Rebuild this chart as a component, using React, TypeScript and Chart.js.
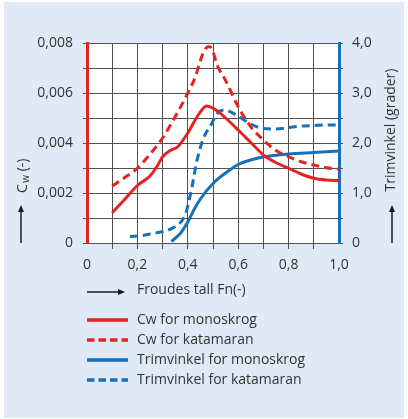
import React, { useEffect, useRef } from "react";
import { Chart, registerables } from "chart.js";

Chart.register(...registerables);

// ---- data ----
const cwMonoFn = [0.10, 0.15, 0.20, 0.25, 0.28, 0.30, 0.33, 0.36, 0.40, 0.44, 0.475, 0.51, 0.55, 0.60, 0.65, 0.70, 0.75, 0.80, 0.85, 0.90, 0.95, 1.00];
const cwMono = [0.00121, 0.00175, 0.00230, 0.00268, 0.00310, 0.00345, 0.00370, 0.00385, 0.00440, 0.00510, 0.00548, 0.00533, 0.00500, 0.00452, 0.00402, 0.00352, 0.00321, 0.00299, 0.00276, 0.00259, 0.00252, 0.00250];

const cwCatFn = [0.10, 0.15, 0.20, 0.25, 0.30, 0.35, 0.40, 0.43, 0.45, 0.465, 0.485, 0.50, 0.515, 0.55, 0.60, 0.65, 0.70, 0.75, 0.80, 0.85, 0.90, 0.95, 1.00];
const cwCat = [0.00228, 0.00262, 0.00299, 0.00355, 0.00420, 0.00505, 0.00600, 0.00665, 0.00730, 0.00770, 0.00786, 0.00765, 0.00715, 0.00650, 0.00545, 0.00465, 0.00412, 0.00370, 0.00345, 0.00325, 0.00312, 0.00301, 0.00295];

const trimMonoFn = [0.335, 0.37, 0.40, 0.425, 0.45, 0.50, 0.55, 0.60, 0.65, 0.70, 0.80, 0.90, 1.00];
const trimMono = [0.03, 0.19, 0.42, 0.67, 0.88, 1.19, 1.40, 1.57, 1.66, 1.72, 1.78, 1.81, 1.84];

const trimCatFn = [0.17, 0.22, 0.25, 0.30, 0.35, 0.39, 0.415, 0.435, 0.46, 0.495, 0.515, 0.545, 0.59, 0.65, 0.70, 0.75, 0.80, 0.85, 0.90, 0.95, 1.00];
const trimCat = [0.13, 0.15, 0.18, 0.23, 0.33, 0.57, 1.08, 1.62, 2.07, 2.39, 2.58, 2.66, 2.57, 2.38, 2.29, 2.28, 2.31, 2.34, 2.35, 2.36, 2.36];

const seriesLabels = ["Cw for monoskrog", "Cw for katamaran", "Trimvinkel for monoskrog", "Trimvinkel for katamaran"];
const xTitle = "Froudes tall Fn(-)";
const rightTitle = "Trimvinkel (grader)";

const RED = "#e52421";
const BLUE = "#1671b8";
const TEXT = "#333333";
const GRID = "#505050";
const FONT = "'Open Sans', sans-serif";

const pts = (xs: number[], ys: number[]) => xs.map((x, i) => ({ x, y: ys[i] }));
const comma = (v: number, d: number) => (Math.abs(v) < 1e-12 ? "0" : v.toFixed(d).replace(".", ","));

function arrow(ctx: CanvasRenderingContext2D, x1: number, y1: number, x2: number, y2: number) {
  const ang = Math.atan2(y2 - y1, x2 - x1);
  const L = 7, W = 3;
  ctx.save();
  ctx.strokeStyle = "#1a1a1a";
  ctx.fillStyle = "#1a1a1a";
  ctx.lineWidth = 1.5;
  ctx.beginPath();
  ctx.moveTo(x1, y1);
  ctx.lineTo(x2 - Math.cos(ang) * (L - 1), y2 - Math.sin(ang) * (L - 1));
  ctx.stroke();
  ctx.beginPath();
  ctx.moveTo(x2, y2);
  ctx.lineTo(x2 - Math.cos(ang) * L - Math.sin(ang) * W, y2 - Math.sin(ang) * L + Math.cos(ang) * W);
  ctx.lineTo(x2 - Math.cos(ang) * L + Math.sin(ang) * W, y2 - Math.sin(ang) * L - Math.cos(ang) * W);
  ctx.closePath();
  ctx.fill();
  ctx.restore();
}

const decorPlugin = {
  id: "decor",
  beforeDraw(chart: any) {
    const { ctx, chartArea } = chart;
    ctx.save();
    ctx.fillStyle = "#ffffff";
    ctx.fillRect(chartArea.left, chartArea.top, chartArea.right - chartArea.left, chartArea.bottom - chartArea.top);
    ctx.restore();
  },
  afterDraw(chart: any) {
    const { ctx, chartArea } = chart;
    const left = chartArea.left;
    ctx.save();
    ctx.fillStyle = TEXT;
    // left title: C_w (-)
    ctx.save();
    ctx.translate(27, 193);
    ctx.rotate(-Math.PI / 2);
    ctx.textBaseline = "alphabetic";
    ctx.textAlign = "left";
    ctx.font = `14px ${FONT}`;
    ctx.fillText("C", 0, 0);
    let w = ctx.measureText("C").width + 1.5;
    ctx.font = `10px ${FONT}`;
    ctx.fillText("w", w, 2);
    w += ctx.measureText("w").width;
    ctx.font = `14px ${FONT}`;
    ctx.fillText(" (-)", w, 0);
    ctx.restore();

    // right title
    ctx.save();
    ctx.translate(395, 130);
    ctx.rotate(-Math.PI / 2);
    ctx.textAlign = "center";
    ctx.textBaseline = "alphabetic";
    ctx.font = `14px ${FONT}`;
    ctx.fillText(rightTitle, 0, 0);
    ctx.restore();

    // vertical arrows
    arrow(ctx, 21, 243, 21, 205);
    arrow(ctx, 392, 243, 392, 205);

    // x title with arrow
    arrow(ctx, left, 292, 125, 292);
    ctx.font = `14px ${FONT}`;
    ctx.textAlign = "left";
    ctx.textBaseline = "middle";
    ctx.fillStyle = TEXT;
    ctx.fillText(xTitle, 137, 290);

    // legend
    const rows = [320, 340, 360, 380];
    const ds = chart.data.datasets;
    rows.forEach((y, i) => {
      const d = ds[i];
      ctx.save();
      ctx.strokeStyle = d.borderColor;
      ctx.lineWidth = 3.5;
      ctx.setLineDash(d.borderDash && d.borderDash.length ? [7.5, 4] : []);
      ctx.beginPath();
      ctx.moveTo(left, y);
      ctx.lineTo(128, y);
      ctx.stroke();
      ctx.restore();
      ctx.fillStyle = TEXT;
      ctx.fillText(d.label, 137, y);
    });
    ctx.restore();
  },
};

export default function App() {
  const ref = useRef<HTMLCanvasElement | null>(null);
  useEffect(() => {
    if (!ref.current) return;
    const chart = new Chart(ref.current, {
      type: "line",
      data: {
        datasets: [
          { label: seriesLabels[0], data: pts(cwMonoFn, cwMono), yAxisID: "y", borderColor: RED, borderWidth: 3, pointRadius: 0, cubicInterpolationMode: "monotone", borderDash: [] },
          { label: seriesLabels[1], data: pts(cwCatFn, cwCat), yAxisID: "y", borderColor: RED, borderWidth: 3, pointRadius: 0, cubicInterpolationMode: "monotone", borderDash: [8, 5] },
          { label: seriesLabels[2], data: pts(trimMonoFn, trimMono), yAxisID: "y2", borderColor: BLUE, borderWidth: 3, pointRadius: 0, cubicInterpolationMode: "monotone", borderDash: [] },
          { label: seriesLabels[3], data: pts(trimCatFn, trimCat), yAxisID: "y2", borderColor: BLUE, borderWidth: 3, pointRadius: 0, cubicInterpolationMode: "monotone", borderDash: [8, 5] },
        ] as any,
      },
      options: {
        responsive: false,
        animation: false,
        events: [],
        layout: { padding: { top: 43, left: 0, right: 0, bottom: 0 } },
        plugins: { legend: { display: false }, tooltip: { enabled: false } },
        scales: {
          x: {
            type: "linear",
            min: 0,
            max: 1,
            ticks: {
              stepSize: 0.1,
              autoSkip: false,
              maxRotation: 0,
              padding: 8,
              color: TEXT,
              font: { family: FONT, size: 14 },
              callback: (v: any) => (Math.round(Number(v) * 10) % 2 === 0 ? comma(Number(v), 1) : ""),
            },
            grid: {
              color: (c: any) => (c.tick && (Math.abs(c.tick.value) < 1e-9 || Math.abs(c.tick.value - 1) < 1e-9) ? "rgba(0,0,0,0)" : GRID),
              lineWidth: 1,
              tickLength: 6,
            },
            border: { display: true, color: GRID, width: 1 },
            afterFit: (s: any) => { s.height = 176; },
          },
          y: {
            type: "linear",
            position: "left",
            min: 0,
            max: 0.008,
            ticks: {
              stepSize: 0.001,
              autoSkip: false,
              padding: 10,
              color: TEXT,
              font: { family: FONT, size: 14 },
              callback: (v: any) => (Math.round(Number(v) * 1000) % 2 === 0 ? comma(Number(v), 3) : ""),
            },
            grid: { color: GRID, lineWidth: 1, tickLength: 4 },
            border: { display: true, color: RED, width: 3 },
            afterFit: (s: any) => { s.width = 87; },
          },
          y2: {
            type: "linear",
            position: "right",
            min: 0,
            max: 4,
            ticks: {
              stepSize: 0.5,
              autoSkip: false,
              padding: 9,
              color: TEXT,
              font: { family: FONT, size: 14 },
              callback: (v: any) => (Math.round(Number(v) * 2) % 2 === 0 ? comma(Number(v), 1) : ""),
            },
            grid: { drawOnChartArea: false, color: GRID, lineWidth: 1, tickLength: 4 },
            border: { display: true, color: BLUE, width: 3 },
            afterFit: (s: any) => { s.width = 69; },
          },
        },
      } as any,
      plugins: [decorPlugin],
    });
    return () => chart.destroy();
  }, []);

  return (
    <div style={{ position: "absolute", left: 0, top: 0, width: 408, height: 419, background: "#ffffff" }}>
      <div style={{ position: "absolute", left: 4, top: 2, width: 400, height: 416, background: "#dfeaf6" }} />
      <canvas ref={ref} width={408} height={419} style={{ position: "absolute", left: 0, top: 0, width: 408, height: 419, display: "block" }} />
    </div>
  );
}
